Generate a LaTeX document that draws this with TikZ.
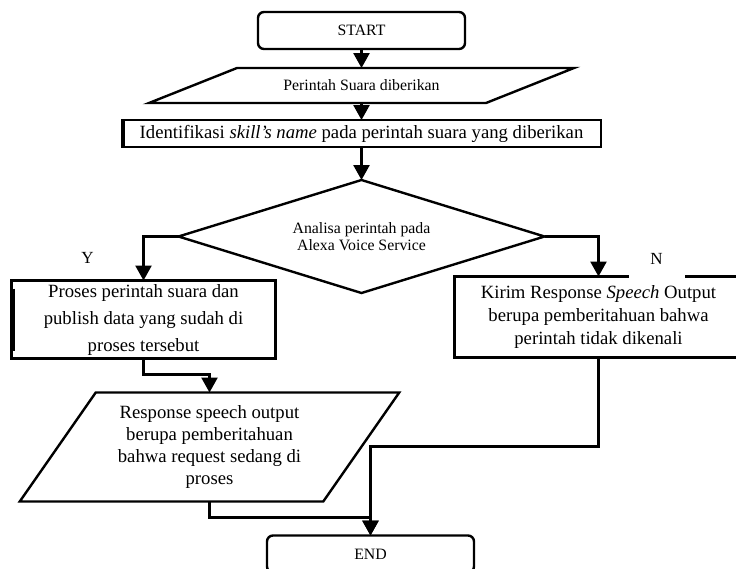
\documentclass[tikz,border=0pt]{standalone}
\usepackage{fontspec}
\setmainfont{Liberation Serif}
\usetikzlibrary{arrows.meta,positioning,shapes.geometric}

\begin{document}
\begin{tikzpicture}[
  x=1pt, y=1pt, outer sep=0pt,
  terminal/.style={draw, rounded corners=6pt, line width=2.4pt, minimum width=207pt, minimum height=37pt, inner sep=0pt, font=\fontsize{15.8}{18}\selectfont},
  proses/.style={draw, line width=2.4pt, align=center, inner sep=0pt, font=\fontsize{18.7}{23}\selectfont},
  io/.style={align=center, inner sep=0pt, font=\fontsize{18.7}{22}\selectfont},
  cabang/.style={diamond, aspect=3.24, draw, line width=2.4pt, align=center, minimum width=366pt, minimum height=113pt, inner sep=0pt, font=\fontsize{15.8}{17.5}\selectfont},
  sisi/.style={line width=2.4pt, line join=miter},
  tanda/.style={inner sep=0pt, font=\fontsize{17}{20}\selectfont},
  seta/.style={-{Triangle[length=15pt, width=16pt]}, line width=2.6pt}
]
\useasboundingbox (0,0) rectangle (736,-568);
\node[terminal] (mulai) at (361.5,-30.5) {START};
\node[io, minimum width=337pt, minimum height=35pt, font=\fontsize{15.8}{18}\selectfont, below=19pt of mulai] (perintah) {Perintah Suara diberikan};
\node[proses, minimum width=479pt, minimum height=27pt, below=17pt of perintah] (identifikasi) {Identifikasi \textit{skill’s name} pada perintah suara yang diberikan};
\node[cabang, below=33pt of identifikasi] (analisa) {Analisa perintah pada\\Alexa Voice Service};
\node[proses, minimum width=264pt, minimum height=78pt, font=\fontsize{18.7}{27}\selectfont, below=44pt of analisa.west, xshift=-35pt] (olah) {Proses perintah suara dan\\publish data yang sudah di\\proses tersebut};
\node[proses, minimum width=288pt, minimum height=81pt, below=40pt of analisa.east, xshift=54pt] (tolak) {Kirim Response \textit{Speech} Output\\berupa pemberitahuan bahwa\\perintah tidak dikenali};
\node[io, minimum width=303.5pt, minimum height=109pt, below=34pt of olah.south, xshift=66pt] (respons) {Response speech output\\berupa pemberitahuan\\bahwa request sedang di\\proses};
\node[terminal, below=34pt of respons.south, xshift=161pt] (selesai) {END};
% jajaran genjang input/output
\draw[sisi] ([xshift=44pt]perintah.north west) -- ([xshift=44pt]perintah.north east) -- ([xshift=-44pt]perintah.south east) -- ([xshift=-44pt]perintah.south west) -- cycle;
\draw[sisi] ([xshift=38pt]respons.north west) -- ([xshift=38pt]respons.north east) -- ([xshift=-38pt]respons.south east) -- ([xshift=-38pt]respons.south west) -- cycle;
\draw[line width=2pt] ([xshift=1.5pt,yshift=-1pt]identifikasi.north west) -- ([xshift=1.5pt,yshift=1pt]identifikasi.south west);
\draw[line width=2.4pt] ([xshift=2pt,yshift=-8pt]olah.north west) -- ([xshift=2pt,yshift=8pt]olah.south west);
\node[tanda] (ya) at ([xshift=-91pt,yshift=-21pt]analisa.west) {Y};
\node[tanda, fill=white, minimum width=56pt, minimum height=42pt] (tidak) at ([xshift=58pt,yshift=18pt]tolak.north) {N};
\draw[seta] (mulai) -- (perintah);
\draw[seta] (perintah) -- (identifikasi);
\draw[seta] (identifikasi) -- (analisa);
\draw[seta] (analisa.west) -| (olah.north);
\draw[seta] (analisa.east) -| (tolak.north);
\draw[seta] (olah.south) -- ++(0,-16) -| (respons.north);
\draw[seta] (respons.south) -- ++(0,-16) -| (selesai.north);
\draw[seta] (tolak.south) -- ++(0,-89) -| (selesai.north);
\end{tikzpicture}
\end{document}
